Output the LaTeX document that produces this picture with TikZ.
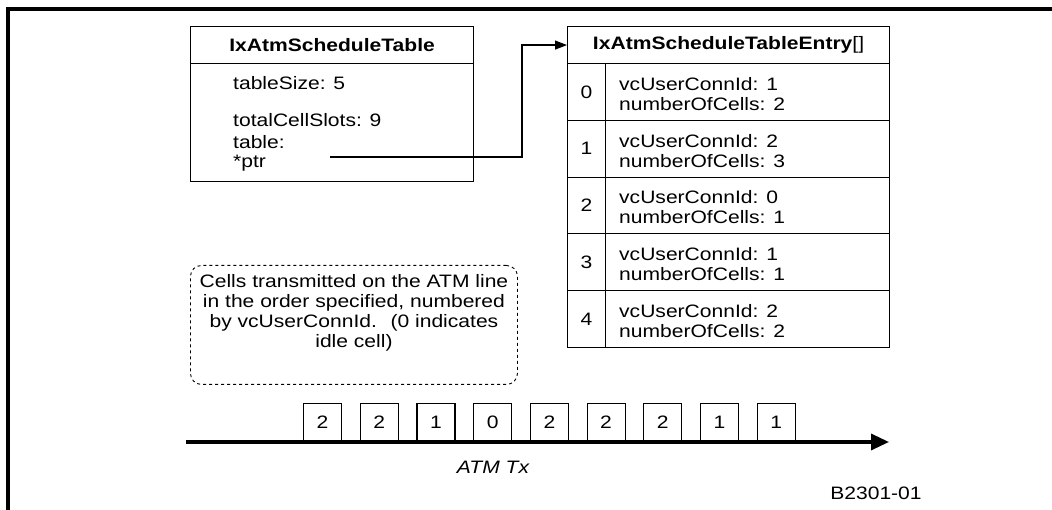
\documentclass[tikz,border=0pt]{standalone}
\usepackage{fontspec}
\setmainfont{Liberation Sans}[FakeStretch=1.17]
\usetikzlibrary{arrows.meta}

\tikzset{
  cellbox/.style={draw, line width=1.1pt, inner sep=0pt},
  fieldtext/.style={anchor=west, inner sep=0pt},
  slotbox/.style={draw, line width=1.1pt, minimum width=38pt, minimum height=38pt, anchor=south west, inner sep=0pt}
}

\begin{document}
\begin{tikzpicture}[x=1pt, y=-1pt, font=\fontsize{18}{20}\selectfont]

\useasboundingbox (0,0) rectangle (1052,510);

% frame
\draw[line width=3.2pt] (8,510) -- (8,9) -- (1052,9);

% schedule table
\node[cellbox, minimum width=283pt, minimum height=37pt, anchor=north west] (tblhead) at (190,26) {\bfseries IxAtmScheduleTable};
\node[cellbox, minimum width=283pt, minimum height=118pt, anchor=north west] (tblbody) at (190,63) {};
\node[fieldtext] (tsize) at (233,83) {tableSize: 5};
\node[fieldtext] (tslots) at (233,120) {totalCellSlots: 9};
\node[fieldtext] (tfield) at (233,142) {table:};
\node[fieldtext] (tptr) at (233,163) {*ptr};
\coordinate (ptrstart) at (330,157);

% table entries
\node[cellbox, minimum width=322pt, minimum height=37pt, anchor=north west] (enthead) at (567,26) {\textbf{IxAtmScheduleTableEntry}[]};
\foreach \i/\conn/\cells in {0/1/2, 1/2/3, 2/0/1, 3/1/1, 4/2/2} {
  \node[cellbox, minimum width=38pt, minimum height=56.8pt, anchor=north west] (idx\i) at (567,63+56.8*\i) {\i};
  \node[cellbox, minimum width=284pt, minimum height=56.8pt, anchor=north west] (ent\i) at (605,63+56.8*\i) {};
  \node[fieldtext] (conn\i) at ([xshift=14pt, yshift=8pt]ent\i.west) {vcUserConnId: \conn};
  \node[fieldtext] (ncells\i) at ([xshift=14pt, yshift=-12pt]ent\i.west) {numberOfCells: \cells};
}

\draw[line width=1.1pt, -{Triangle[length=12pt, width=9pt]}] (ptrstart) -- (522,157) |- (enthead.west);

% note
\node[draw, dashed, line width=0.9pt, rounded corners=11pt, minimum width=327pt, minimum height=119pt, anchor=north west] (note) at (190,265) {};
\node[align=center, inner sep=0pt] (notetext) at ([yshift=12pt]note.center)
  {Cells transmitted on the ATM line\\in the order specified, numbered\\by vcUserConnId.~ (0 indicates\\idle cell)};

% transmitted cells
\coordinate (txstart) at (186,442);
\coordinate (txend) at (889,442);
\foreach \v [count=\k from 0] in {2,2,1,0,2,2,2,1,1} {
  \node[slotbox] (slot\k) at (303+56.7*\k,442) {\v};
}
\draw[line width=3.3pt, -{Triangle[length=18pt, width=16pt]}] (txstart) -- (txend);
\node[font=\fontsize{18}{20}\selectfont\itshape] (txlabel) at (493,467) {ATM Tx};

\node (figid) at (876,493) {B2301-01};

\end{tikzpicture}
\end{document}
